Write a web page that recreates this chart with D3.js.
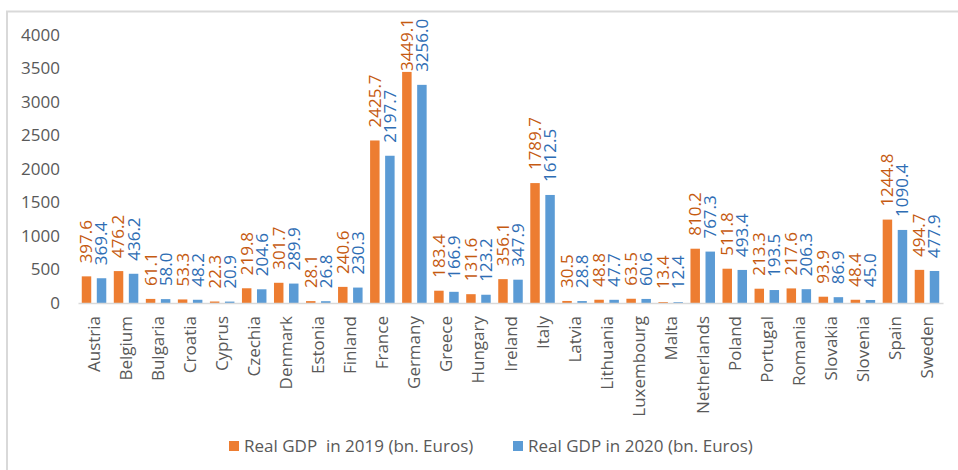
<!DOCTYPE html>
<html>
<head>
<meta charset="utf-8">
<script src="https://cdn.jsdelivr.net/npm/d3@7"></script>
<style>
  html, body { margin: 0; padding: 0; background: #fff; }
  svg { display: block; font-family: "Open Sans", "Noto Sans", sans-serif; }
</style>
</head>
<body>
<svg id="chart" width="958" height="470"></svg>
<script>
// EU member states, real GDP (bn. Euros)
const countries = ["Austria","Belgium","Bulgaria","Croatia","Cyprus","Czechia","Denmark","Estonia","Finland","France","Germany","Greece","Hungary","Ireland","Italy","Latvia","Lithuania","Luxembourg","Malta","Netherlands","Poland","Portugal","Romania","Slovakia","Slovenia","Spain","Sweden"];
const gdp2019 = [397.6,476.2,61.1,53.3,22.3,219.8,301.7,28.1,240.6,2425.7,3449.1,183.4,131.6,356.1,1789.7,30.5,48.8,63.5,13.4,810.2,511.8,213.3,217.6,93.9,48.4,1244.8,494.7];
const gdp2020 = [369.4,436.2,58.0,48.2,20.9,204.6,289.9,26.8,230.3,2197.7,3256.0,166.9,123.2,347.9,1612.5,28.8,47.7,60.6,12.4,767.3,493.4,193.5,206.3,86.9,45.0,1090.4,477.9];
const seriesNames = ["Real GDP  in 2019 (bn. Euros)", "Real GDP in 2020 (bn. Euros)"];
const yTicks = [0,500,1000,1500,2000,2500,3000,3500,4000];

const barColors = ["#ED7D31", "#5B9BD5"];
const labelColors = ["#C55A11", "#2E6DB4"];
const seriesValues = [gdp2019, gdp2020];

const svg = d3.select("#chart");

// outer frame
svg.append("path")
  .attr("d", "M7,470 V11.5 H958")
  .attr("fill", "none")
  .attr("stroke", "#d9d9d9")
  .attr("stroke-width", 2);

const m = { left: 78, right: 943, top: 35, bottom: 303, plotTop: 18 };

const x = d3.scaleBand().domain(countries).range([m.left, m.right]).paddingInner(0).paddingOuter(0);
const xs = d3.scaleBand().domain([0, 1]).range([0, x.bandwidth()]).paddingInner(0.37).paddingOuter(0.25);
const y = d3.scaleLinear().domain([0, 4000]).range([m.bottom, m.top]);

// y axis (labels only)
const yAxis = svg.append("g")
  .attr("transform", `translate(${m.left},0)`)
  .call(d3.axisLeft(y).tickValues(yTicks).tickSize(0).tickPadding(18).tickFormat(d3.format("d")));
yAxis.select(".domain").remove();
yAxis.selectAll("text").attr("font-size", 17).attr("fill", "#595959").attr("font-family", "\"Open Sans\", sans-serif");

// bars
const groups = svg.append("g").selectAll("g")
  .data(countries)
  .join("g")
  .attr("transform", d => `translate(${x(d)},0)`);

seriesValues.forEach((vals, s) => {
  groups.append("rect")
    .attr("x", xs(s))
    .attr("width", xs.bandwidth())
    .attr("y", (d, i) => y(vals[i]))
    .attr("height", (d, i) => m.bottom - y(vals[i]))
    .attr("fill", barColors[s]);
});

// x axis
const xAxis = svg.append("g")
  .attr("transform", `translate(0,${m.bottom})`)
  .call(d3.axisBottom(x).tickSize(0).tickPadding(0));
xAxis.select(".domain").attr("stroke", "#d9d9d9").attr("stroke-width", 1.5);
xAxis.selectAll("text")
  .attr("font-size", 17)
  .attr("fill", "#595959")
  .attr("font-family", "\"Open Sans\", sans-serif")
  .attr("text-anchor", "end")
  .attr("dy", null)
  .attr("transform", "translate(6,13) rotate(-90)")
  .attr("x", 0).attr("y", 0);

// value labels, rotated, above each bar (kept inside the plot area)
seriesValues.forEach((vals, s) => {
  groups.each(function(d, i) {
    const g = d3.select(this);
    const cx = xs(s) + xs.bandwidth() / 2;
    const t = g.append("text")
      .attr("font-size", 17)
      .attr("fill", labelColors[s])
      .attr("text-anchor", "start")
      .attr("dy", "0.35em")
      .text(d3.format(".1f")(vals[i]));
    const len = t.node().getComputedTextLength();
    let start = y(vals[i]) - 13;
    if (start - len < m.plotTop) start = m.plotTop + len;
    t.attr("transform", `translate(${cx},${start}) rotate(-90)`);
  });
});

// legend
const legend = svg.append("g").attr("transform", "translate(0,446)");
const legendX = [229, 513];
seriesNames.forEach((name, s) => {
  legend.append("rect")
    .attr("x", legendX[s]).attr("y", -5).attr("width", 10).attr("height", 10)
    .attr("fill", barColors[s]);
  legend.append("text")
    .attr("x", legendX[s] + 15).attr("y", 0).attr("dy", "0.35em")
    .attr("font-size", 17).attr("fill", "#595959")
    .attr("xml:space", "preserve")
    .style("white-space", "pre")
    .text(name);
});
</script>
</body>
</html>
